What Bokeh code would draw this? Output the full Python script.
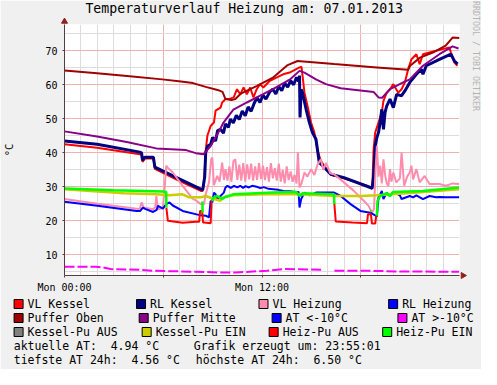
import math
from bokeh.plotting import figure
from bokeh.models import Range1d, FixedTicker
from bokeh.embed import file_html
from bokeh.resources import INLINE
from bokeh.core.properties import value

NaN = float("nan")

# ---------------- data ----------------
title_text = "Temperaturverlauf Heizung am: 07.01.2013"
credit_text = "RRDTOOL / TOBI OETIKER"
unit_label = "°C"
x_tick_hours = [0, 12]
x_tick_labels = ["Mon 00:00", "Mon 12:00"]
x_minor_tick_hours = [6, 18]
x_grid_major = [0, 6, 12, 18, 24]
x_grid_minor = list(range(0, 25))
y_ticks = [10, 20, 30, 40, 50, 60, 70]
y_grid_minor = [5, 15, 25, 35, 45, 55, 65, 75]

vl_kessel_t = [0, 1.98, 4.58, 4.68, 4.74, 4.88, 5.40, 5.49, 6.78, 8.28,
               8.40, 8.50, 8.58, 8.68, 8.88, 9.08, 9.18, 9.48, 9.58, 9.78,
               9.98, 10.28, 10.48, 10.68, 10.88, 11.08, 11.28, 11.48, 11.68, 11.88,
               12.08, 12.48, 12.88, 13.28, 13.68, 14.08, 14.28, 14.40, 14.48, 14.58,
               14.78, 14.98, 15.18, 15.38, 15.58, 15.78, 16.18, 17.0, 18.38, 18.58,
               18.70, 18.78, 18.88, 19.08, 19.28, 19.38, 19.58, 19.78, 19.98, 20.28,
               20.48, 20.68, 20.88, 21.08, 21.38, 21.58, 21.78, 22.18, 22.58, 22.98,
               23.38, 23.48, 23.68, 23.88]
vl_kessel = [42.5, 41.5, 39.6, 39.4, 37.3, 38.3, 38.3, 35.3, 32.2, 28.8,
             28.8, 33.0, 40.6, 45.0, 47.9, 48.9, 52.4, 53.3, 54.8, 55.8,
             55.8, 56.3, 58.7, 57.2, 59.2, 57.2, 59.2, 56.3, 58.7, 60.2,
             59.2, 61.2, 62.1, 63.1, 63.6, 64.6, 65.1, 65.3, 62.0, 57.7,
             53.5, 48.9, 46.0, 40.6, 37.6, 36.2, 33.5, 32.4, 30.3, 29.8,
             29.5, 41.0, 46.0, 48.9, 51.9, 55.3, 57.7, 58.7, 60.2, 57.7,
             58.7, 60.7, 64.6, 67.5, 69.0, 66.1, 69.0, 69.5, 70.0, 70.5,
             71.0, 69.5, 66.6, 65.6]

rl_kessel_t = [0, 1.98, 4.58, 4.68, 4.74, 4.88, 5.40, 5.49, 6.78, 8.28,
               8.40, 8.52, 8.58, 8.70, 8.88, 9.00, 9.18, 9.30, 9.48, 9.66,
               9.78, 9.96, 10.08, 10.26, 10.44, 10.62, 10.80, 10.98, 11.16, 11.34,
               11.52, 11.70, 11.88, 12.06, 12.24, 12.48, 12.66, 12.84, 13.02, 13.20,
               13.38, 13.56, 13.74, 13.92, 14.10, 14.22, 14.28, 14.31, 14.38, 14.46,
               14.68, 14.88, 15.06, 15.28, 15.48, 15.68, 16.18, 16.98, 18.58, 18.69,
               18.78, 18.88, 18.98, 19.08, 19.18, 19.28, 19.38, 19.48, 19.58, 19.78,
               19.98, 20.18, 20.48, 20.68, 20.98, 21.38, 21.68, 21.78, 21.98, 22.78,
               23.48, 23.68, 23.88]
rl_kessel = [43.5, 42.5, 40.2, 40.0, 37.8, 38.7, 38.7, 35.8, 32.8, 29.3,
             29.1, 33.0, 40.1, 42.0, 42.5, 44.5, 43.5, 46.5, 46.9, 45.8,
             48.5, 47.5, 49.9, 48.8, 51.0, 49.8, 52.3, 50.9, 53.5, 52.2,
             54.5, 56.3, 54.8, 57.0, 55.8, 58.0, 58.7, 57.3, 59.5, 58.3,
             60.5, 59.3, 61.2, 60.0, 62.2, 61.0, 62.7, 50.4, 58.7, 57.7,
             52.8, 48.9, 46.0, 44.0, 37.1, 36.2, 33.7, 32.7, 29.8, 29.5,
             33.0, 42.0, 44.5, 46.0, 48.9, 52.8, 46.9, 52.0, 53.8, 55.8,
             53.3, 57.2, 56.8, 58.2, 60.7, 63.1, 64.6, 63.1, 65.6, 67.5,
             69.0, 67.1, 66.1]

vl_heizung_t = [0, 2.0, 4.50, 4.58, 4.68, 4.82, 5.38, 5.52, 5.58, 5.67,
                5.78, 5.98, 6.09, 6.18, 6.30, 6.58, 7.18, 7.78, 7.98, 8.28,
                8.48, 8.58, 8.78, 8.91, 8.98, 9.08, 9.28, 9.42, 9.58, 9.69,
                9.78, 9.90, 10.02, 10.14, 10.26, 10.38, 10.50, 10.62, 10.74, 10.86,
                10.98, 11.10, 11.22, 11.34, 11.46, 11.58, 11.70, 11.82, 11.94, 12.06,
                12.18, 12.30, 12.42, 12.54, 12.66, 12.78, 12.90, 13.02, 13.14, 13.26,
                13.38, 13.50, 13.62, 13.74, 13.86, 13.98, 14.10, 14.18, 14.28, 14.40,
                14.58, 14.76, 14.98, 15.18, 15.38, 15.58, 15.72, 15.90, 16.14, 16.38,
                16.98, 17.58, 18.18, 18.48, 18.68, 18.81, 18.90, 18.98, 19.08, 19.18,
                19.28, 19.38, 19.48, 19.58, 19.68, 19.78, 19.86, 19.98, 20.16, 20.38,
                20.48, 20.64, 20.82, 20.98, 21.08, 21.18, 21.38, 21.58, 21.88, 22.18,
                22.78, 23.18, 23.58, 23.98]
vl_heizung = [26.4, 25.0, 23.5, 23.6, 25.4, 23.9, 23.4, 24.0, 27.3, 23.6,
              23.4, 24.0, 30.0, 36.2, 35.5, 34.2, 30.3, 26.5, 26.0, 24.9,
              24.9, 27.8, 31.3, 38.1, 38.6, 30.5, 33.2, 31.5, 37.1, 32.0,
              35.2, 31.8, 36.0, 31.5, 37.5, 38.1, 32.0, 36.5, 31.8, 37.0,
              31.5, 36.6, 32.2, 36.8, 31.8, 36.0, 32.0, 37.0, 32.3, 36.2,
              32.0, 35.8, 31.5, 37.0, 32.5, 35.5, 31.8, 36.8, 31.5, 35.0,
              31.0, 36.0, 32.0, 34.5, 31.5, 33.5, 31.0, 40.1, 29.8, 31.0,
              34.2, 33.0, 35.2, 33.5, 36.6, 38.1, 35.0, 37.0, 34.0, 33.7,
              31.3, 28.8, 25.9, 24.4, 22.4, 23.5, 35.0, 42.0, 33.0, 36.2,
              31.0, 38.1, 33.5, 31.0, 30.3, 35.2, 31.5, 34.2, 31.3, 32.5,
              40.1, 30.3, 33.0, 34.2, 36.2, 32.2, 35.2, 31.3, 33.2, 30.8,
              30.8, 30.3, 31.0, 30.8]

rl_heizung_t = [0, 2.0, 4.38, 4.60, 4.76, 4.90, 5.38, 5.60, 5.68, 5.98,
                6.18, 6.38, 6.58, 7.18, 8.28, 8.58, 8.78, 8.88, 8.98, 9.08,
                9.18, 9.28, 9.48, 9.68, 9.78, 9.90, 10.1, 10.3, 10.5, 10.68,
                10.85, 11.0, 11.2, 11.4, 11.68, 11.9, 12.1, 12.4, 12.68, 13.0,
                13.3, 13.7, 14.08, 14.22, 14.28, 14.38, 14.58, 14.9, 15.28, 16.0,
                16.38, 16.78, 17.38, 17.98, 18.58, 18.98, 19.08, 19.28, 19.38, 19.58,
                19.78, 19.98, 20.38, 20.48, 20.98, 21.18, 21.38, 21.78, 22.18, 22.58,
                22.78, 23.18, 23.98]
rl_heizung = [25.6, 24.4, 22.9, 22.9, 23.9, 23.5, 22.6, 23.2, 24.4, 23.6,
              24.9, 25.4, 24.5, 22.9, 21.6, 21.5, 21.0, 25.9, 25.4, 28.3,
              27.8, 26.4, 27.3, 28.3, 29.8, 30.3, 29.7, 30.3, 29.8, 30.3,
              29.7, 30.2, 29.8, 30.3, 30.0, 29.6, 29.9, 29.4, 29.3, 29.1,
              28.8, 28.7, 28.5, 28.5, 23.9, 26.4, 28.3, 27.5, 28.3, 28.3,
              28.3, 27.3, 24.9, 22.9, 22.4, 21.3, 26.9, 28.8, 26.4, 28.3,
              27.3, 28.5, 27.5, 26.4, 27.3, 26.9, 27.5, 26.4, 27.3, 26.9,
              27.0, 26.9, 26.9]

puffer_oben_t = [0.0, 1.98, 3.96, 5.94, 7.08, 7.80, 8.58, 9.30, 9.60, 9.78,
                 10.14, 10.38, 10.74, 11.70, 12.66, 13.56, 14.16, 16.38, 18.78, 20.88,
                 21.00, 21.60, 22.38, 23.16, 23.58, 24.0]
puffer_oben = [64.2, 63.4, 62.5, 61.6, 61.0, 60.5, 59.4, 58.5, 57.9, 55.8,
               55.5, 55.8, 57.5, 59.7, 62.1, 65.8, 67.0, 66.1, 65.2, 64.4,
               65.6, 68.0, 69.5, 71.5, 73.9, 73.8]

puffer_mitte_t = [0, 1.98, 3.78, 5.58, 7.38, 7.98, 8.46, 8.88, 9.30, 9.66,
                  10.26, 11.08, 11.68, 12.66, 13.68, 14.28, 14.58, 15.28, 15.88, 16.78,
                  18.78, 19.08, 19.30, 19.78, 20.58, 20.98, 21.78, 22.78, 23.58, 23.94]
puffer_mitte = [46.3, 44.8, 43.2, 41.3, 40.8, 39.9, 39.6, 42.0, 45.5, 48.9,
                52.7, 54.8, 56.3, 58.7, 61.5, 64.1, 63.6, 61.6, 60.2, 59.0,
                57.9, 56.3, 56.2, 58.7, 60.7, 61.6, 65.6, 69.0, 71.3, 70.7]

at_hi_t = [0, 1.9, 2.3, 2.8, 4.6, 5.4, 7.98, 9.5, 10.4, 12.3,
           13.4, 15.7, 16.0, 16.4, 18.4, 20.3, 23.98]
at_hi = [6.5, 6.5, 6.3, 5.8, 5.6, 5.3, 5.0, 4.8, 4.8, 5.3,
         5.8, 5.6, NaN, 5.3, 5.3, 5.1, 5.0]

kessel_pu_ein_t = [0, 3.6, 5.58, 6.38, 7.18, 7.58, 8.28, 8.58, 9.08, 9.48,
                   9.68, 10.28, 12.0, 14.28, 16.38, 18.0, 18.98, 20.78, 23.98]
kessel_pu_ein = [29.3, 28.1, 27.8, 27.5, 27.8, 26.9, 26.9, 27.3, 26.4, 25.9,
                 27.0, 27.5, 27.8, 27.8, 27.3, 27.3, 27.5, 28.1, 29.3]

heiz_pu_aus_t = [6.19, 6.28, 7.18, 7.98, 8.18, 8.24, 8.36, 8.42, 8.48, 8.88,
                 8.94, 12.0, 16.39, 16.48, 17.5, 18.38, 18.44, 18.62, 18.68, 18.88,
                 18.94]
heiz_pu_aus = [23.9, 20.0, 19.4, 19.7, 19.7, 22.9, 22.9, 19.5, 19.5, 19.3,
               25.9, NaN, 25.4, 19.8, 19.5, 19.3, 21.9, 21.9, 19.2, 19.2,
               21.5]

heiz_pu_ein_t = [0, 3.0, 6.0, 6.18, 6.19, 7.0, 8.38, 8.39, 8.6, 8.94,
                 9.08, 9.28, 9.58, 9.78, 10.28, 12.68, 14.08, 14.28, 14.48, 16.38,
                 16.39, 17.5, 18.55, 18.62, 18.8, 18.98, 19.02, 19.18, 19.58, 19.78,
                 19.98, 21.78, 23.98]
heiz_pu_ein = [29.5, 29.0, 28.6, 28.5, 23.9, NaN, 25.7, 22.4, NaN, 25.9,
               26.9, 27.3, 26.4, 27.0, 27.8, 28.3, 28.5, 27.3, 28.1, 27.8,
               24.9, NaN, 22.9, 22.9, NaN, 21.5, 25.9, 27.3, 28.1, 27.3,
               28.5, 28.8, 29.8]

legend_names = ["VL Kessel", "RL Kessel", "VL Heizung", "RL Heizung",
                "Puffer Oben", "Puffer Mitte", "AT <-10°C", "AT >-10°C",
                "Kessel-Pu AUS", "Kessel-Pu EIN", "Heiz-Pu AUS", "Heiz-Pu EIN"]
legend_colors = ["#ff0000", "#000080", "#ff8cac", "#0000ff",
                 "#a00000", "#880088", "#0000ff", "#ff00ff",
                 "#808080", "#cccc00", "#ff0000", "#00ff00"]

at_now = 4.94
at_min_24h = 4.56
at_max_24h = 6.50
created_at = "23:55:01"

# ---------------- styling / layout ----------------
FONT = "DejaVu Sans Mono"
BG = "#f0f0f0"
AXIS_C = "#5a3c3c"
ARROW_C = "#902020"
W, H = 481, 369
FL, FR, FT, FB = 59, 22, 24, 94
T0, T1 = 0.0, 24.0
V0, V1 = 3.91, 77.74


def t_at(px):
    """figure pixel x -> hours"""
    return T0 + (px - FL) * (T1 - T0) / (W - FL - FR)


def v_at(py):
    """figure pixel y (from top) -> value"""
    return V1 - (py - FT) * (V1 - V0) / (H - FT - FB)


p = figure(width=W, height=H, x_range=Range1d(T0, T1), y_range=Range1d(V0, V1),
           output_backend="svg", toolbar_location=None,
           min_border_left=FL, min_border_right=FR, min_border_top=FT, min_border_bottom=FB)
p.border_fill_color = BG
p.background_fill_color = "white"
p.outline_line_color = None

p.xgrid.ticker = FixedTicker(ticks=x_grid_major, minor_ticks=x_grid_minor)
p.ygrid.ticker = FixedTicker(ticks=y_ticks, minor_ticks=y_grid_minor)
p.grid.grid_line_color = "#f3b0b0"
p.grid.minor_grid_line_color = "#dddddd"
p.grid.grid_line_width = 1

xa = p.xaxis[0]
ya = p.yaxis[0]
xa.ticker = FixedTicker(ticks=x_tick_hours, minor_ticks=x_minor_tick_hours)
xa.major_label_overrides = dict(zip(x_tick_hours, x_tick_labels))
ya.ticker = FixedTicker(ticks=y_ticks, minor_ticks=[])
for ax in (xa, ya):
    ax.axis_line_color = AXIS_C
    ax.major_tick_line_color = AXIS_C
    ax.minor_tick_line_color = AXIS_C
    ax.major_tick_in = 0
    ax.major_tick_out = 2
    ax.minor_tick_in = 0
    ax.minor_tick_out = 2
    ax.major_label_text_font = FONT
    ax.major_label_text_font_size = "10px"
    ax.major_label_text_color = "black"
xa.major_label_standoff = 4
ya.major_label_standoff = 5
ya.axis_label = unit_label
ya.axis_label_text_font = FONT
ya.axis_label_text_font_size = "10.5px"
ya.axis_label_text_font_style = "normal"
ya.axis_label_text_color = "black"
ya.axis_label_standoff = 27

series = [
    (vl_kessel_t, vl_kessel, legend_colors[0], 2, "solid"),
    (rl_kessel_t, rl_kessel, legend_colors[1], 3, "solid"),
    (vl_heizung_t, vl_heizung, legend_colors[2], 2, "solid"),
    (rl_heizung_t, rl_heizung, legend_colors[3], 2, "solid"),
    (puffer_oben_t, puffer_oben, legend_colors[4], 2, "solid"),
    (puffer_mitte_t, puffer_mitte, legend_colors[5], 2, "solid"),
    (at_hi_t, at_hi, legend_colors[7], 2, "10 3"),
    (kessel_pu_ein_t, kessel_pu_ein, legend_colors[9], 2.5, "solid"),
    (heiz_pu_aus_t, heiz_pu_aus, legend_colors[10], 2, "solid"),
    (heiz_pu_ein_t, heiz_pu_ein, legend_colors[11], 2.5, "solid"),
]
for t, v, c, w, d in series:
    p.line(t, v, line_color=c, line_width=w, line_dash=d)

# title, credit and axis arrows (outside the frame, overlay level)
p.text(x=[t_at(241)], y=[v_at(8.2)], text=[title_text], text_font=value(FONT),
       text_font_size="13.2px", text_align="center", text_baseline="middle",
       text_color="black", level="overlay")
p.text(x=[t_at(475.5)], y=[v_at(0.5)], text=[credit_text], text_font=value(FONT),
       text_font_size="8.3px", text_align="left", text_baseline="middle",
       text_color="#b4b4b4", angle=-math.pi / 2, level="overlay")
p.scatter(x=[T0], y=[v_at(21)], marker="triangle", size=6, fill_color=ARROW_C,
          line_color=ARROW_C, level="overlay")
p.scatter(x=[t_at(462.5)], y=[V0], marker="triangle", size=6, angle=-math.pi / 2,
          fill_color=ARROW_C, line_color=ARROW_C, level="overlay")

# ---------------- legend block below the frame ----------------
row_y = [303.5, 317.5, 331.5]
swatch_left = [[8, 132, 256, 387.3],
               [8, 134.7, 269.3, 396.7],
               [8, 137.7, 266.3, 381.3]]
sx, sy, tx = [], [], []
for r in range(3):
    for c in range(4):
        sx.append(t_at(swatch_left[r][c] + 4.5))
        sy.append(v_at(row_y[r]))
        tx.append(t_at(swatch_left[r][c] + 13.6))
p.rect(x=sx, y=sy, width=9, height=9, width_units="screen", height_units="screen",
       fill_color=legend_colors, line_color="black", line_width=1, level="overlay")
p.text(x=tx, y=sy, text=legend_names, text_font=value(FONT), text_font_size="11.5px",
       text_align="left", text_baseline="middle", text_color="black", level="overlay")

NB = "\u00a0"
info = [f"aktuelle AT:{NB} {at_now:.2f} °C", f"Grafik erzeugt um: {created_at}",
        f"tiefste AT 24h:{NB} {at_min_24h:.2f} °C", f"höchste AT 24h:{NB} {at_max_24h:.2f} °C"]
info_x = [t_at(7.6), t_at(189.9), t_at(7.6), t_at(191.9)]
info_y = [v_at(345.3), v_at(345.3), v_at(359.3), v_at(359.3)]
p.text(x=info_x, y=info_y, text=info, text_font=value(FONT), text_font_size="11.5px",
       text_align="left", text_baseline="middle", text_color="black", level="overlay")

open("out.html", "w", encoding="utf-8").write(file_html(p, INLINE))
